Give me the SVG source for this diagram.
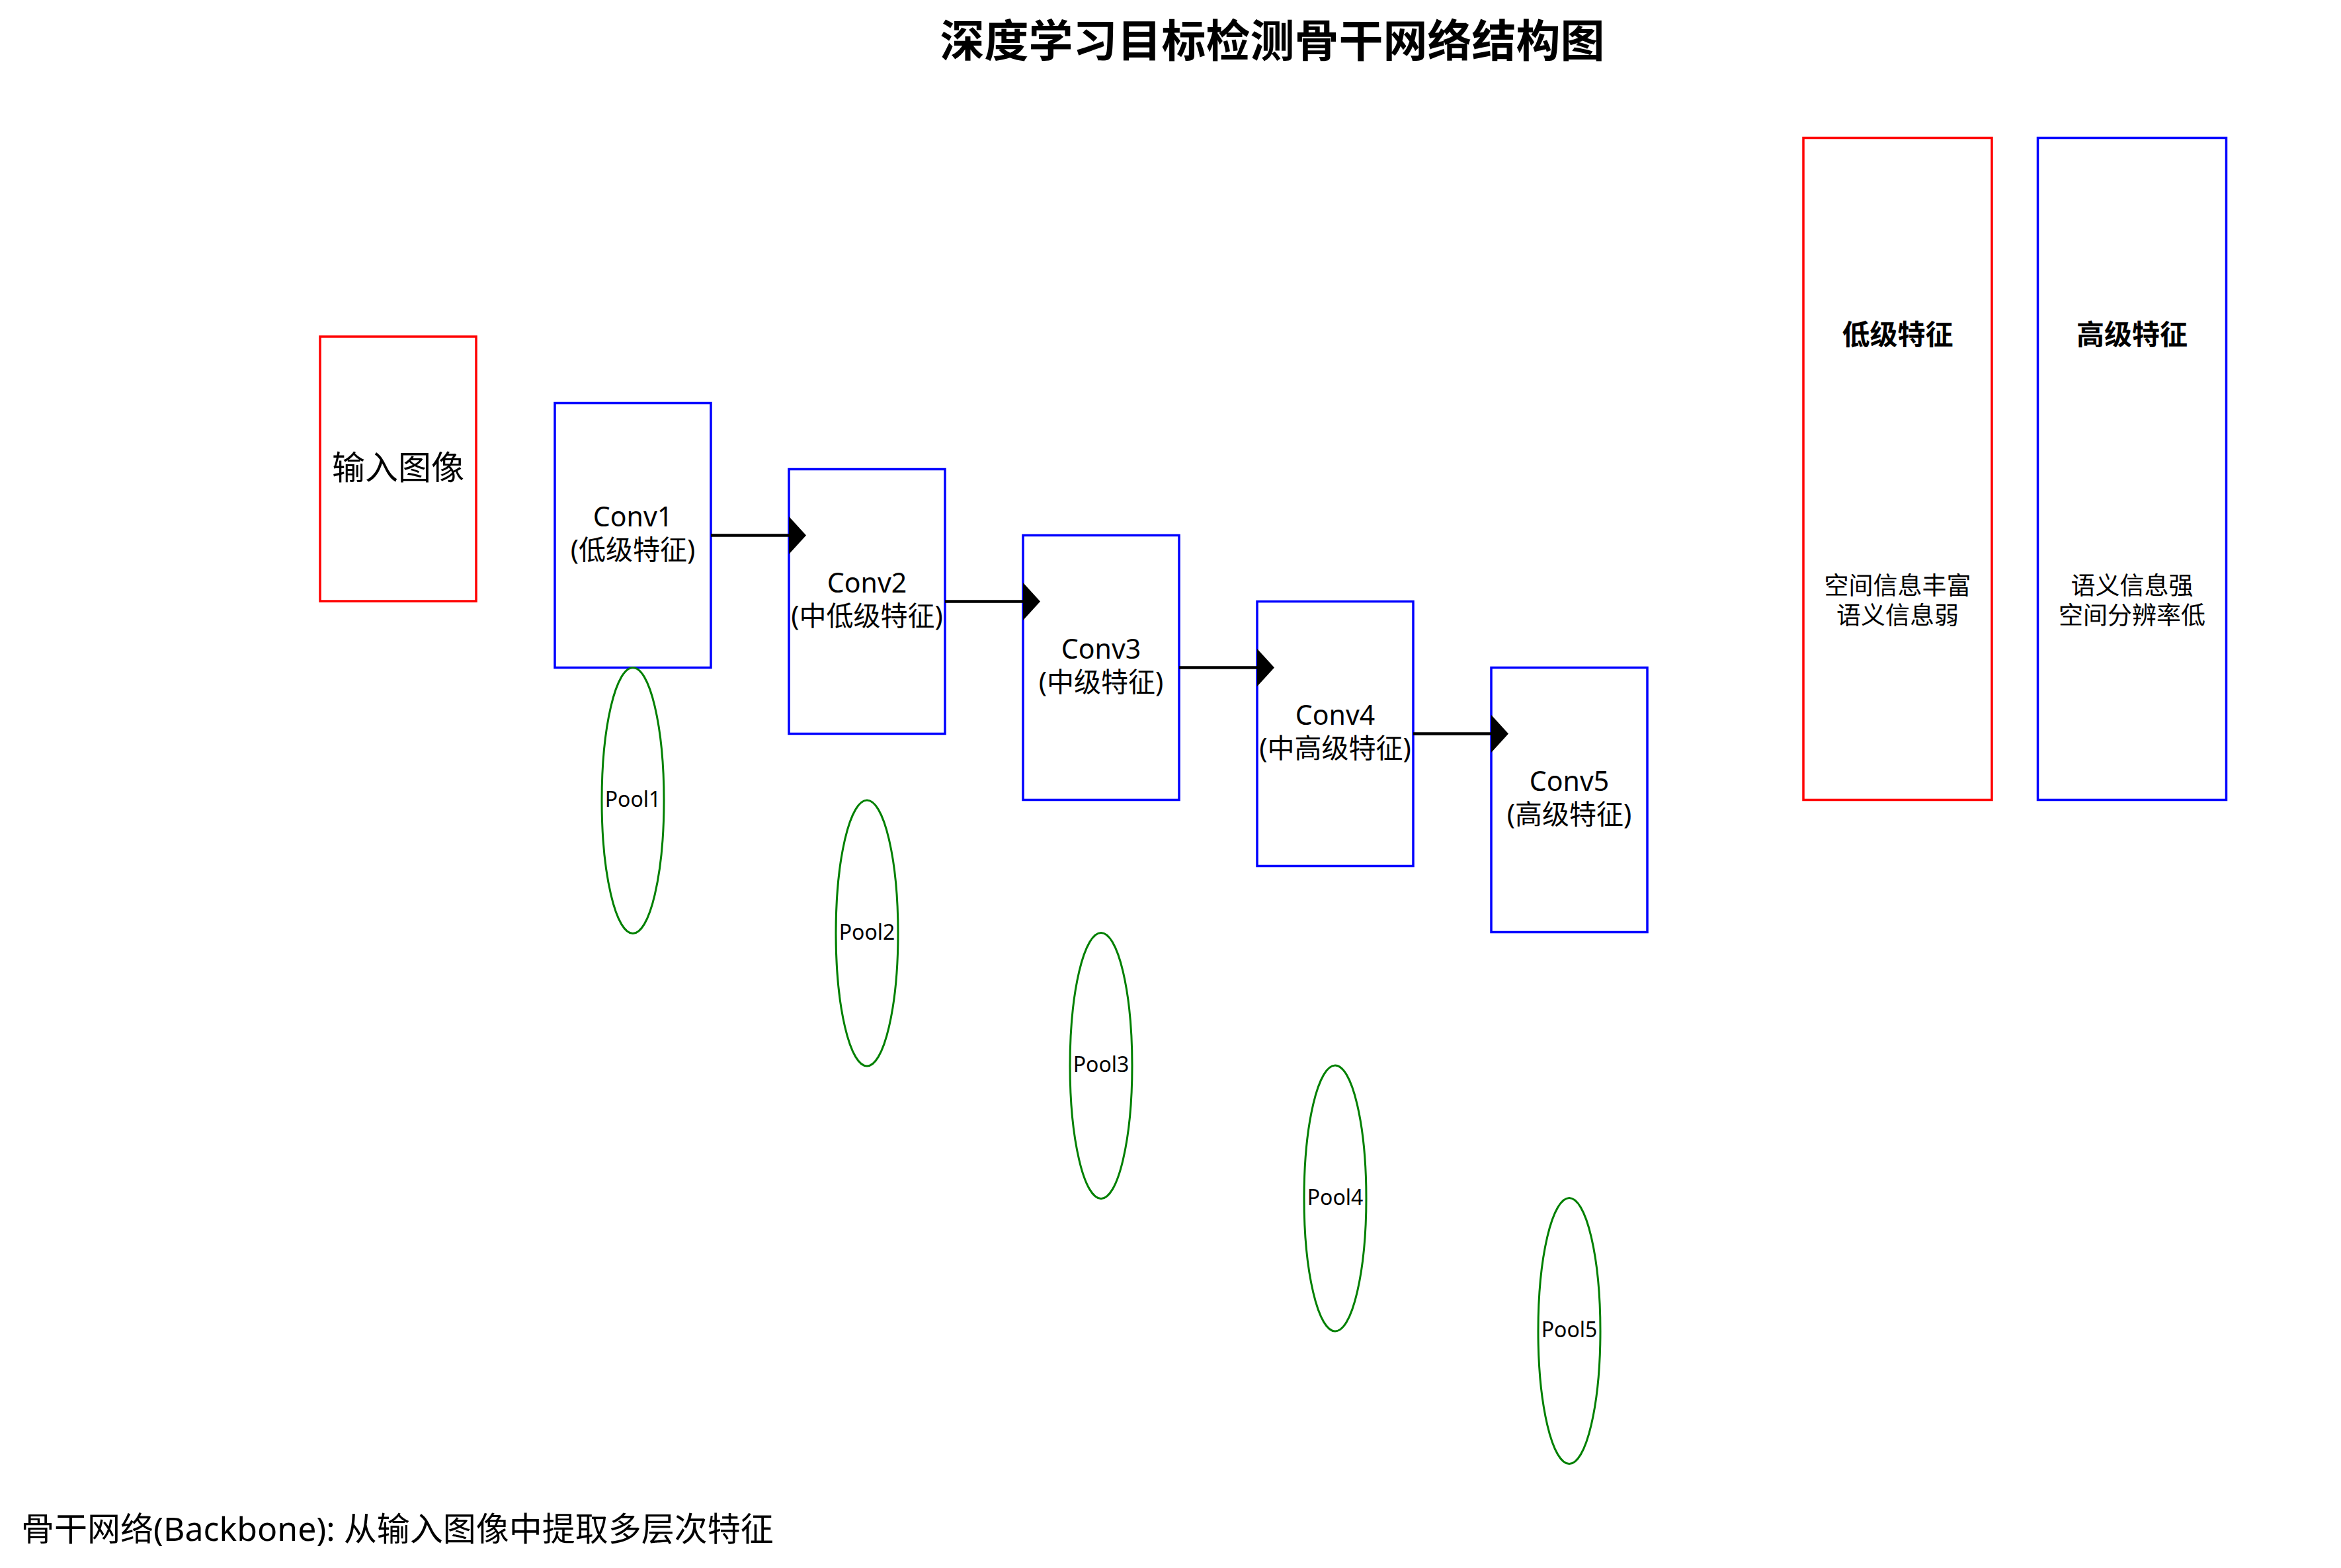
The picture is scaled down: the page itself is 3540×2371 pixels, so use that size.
<svg xmlns="http://www.w3.org/2000/svg" width="3540" height="2371" viewBox="0 0 3540 2371">
<style>
text{font-family:"Noto Sans","Noto Sans CJK SC",sans-serif;fill:#000;text-anchor:middle}
.red{fill:none;stroke:#ff0000;stroke-width:3.5}
.blue{fill:none;stroke:#0000ff;stroke-width:3.5}
.pool{fill:none;stroke:#008000;stroke-width:3}
.conv{font-size:41px}
.pl{font-size:32px}
.conn line{stroke:#000;stroke-width:4.5}
</style>
<defs>
<marker id="ah" markerUnits="userSpaceOnUse" markerWidth="27" markerHeight="58" refX="0" refY="28.5" orient="auto" overflow="visible">
<path d="M0,0 L26,28.5 L0,57 Z" fill="#000"/>
</marker>
</defs>
<rect width="3540" height="2371" fill="#fff"/>
<text id="title" x="1924" y="86" style="font-size:67px;font-weight:bold">深度学习目标检测骨干网络结构图</text>

<g id="input">
<rect class="red" x="484" y="509" width="236" height="400"/>
<text x="602" y="725" style="font-size:50px">输入图像</text>
</g>

<g id="conv1">
<rect class="blue" x="839" y="609.5" width="236" height="400"/>
<text class="conv" x="957" y="796">Conv1</text>
<text class="conv" x="957" y="846">(低级特征)</text>
</g>
<g id="conv2">
<rect class="blue" x="1193" y="709.5" width="236" height="400"/>
<text class="conv" x="1311" y="896">Conv2</text>
<text class="conv" x="1311" y="946">(中低级特征)</text>
</g>
<g id="conv3">
<rect class="blue" x="1547" y="809.5" width="236" height="400"/>
<text class="conv" x="1665" y="996">Conv3</text>
<text class="conv" x="1665" y="1046">(中级特征)</text>
</g>
<g id="conv4">
<rect class="blue" x="1901" y="909.5" width="236" height="400"/>
<text class="conv" x="2019" y="1096">Conv4</text>
<text class="conv" x="2019" y="1146">(中高级特征)</text>
</g>
<g id="conv5">
<rect class="blue" x="2255" y="1009.5" width="236" height="400"/>
<text class="conv" x="2373" y="1196">Conv5</text>
<text class="conv" x="2373" y="1246">(高级特征)</text>
</g>

<g id="pool1"><ellipse class="pool" cx="957" cy="1210.5" rx="47" ry="201"/><text class="pl" x="957" y="1220">Pool1</text></g>
<g id="pool2"><ellipse class="pool" cx="1311" cy="1411" rx="47" ry="201"/><text class="pl" x="1311" y="1420.5">Pool2</text></g>
<g id="pool3"><ellipse class="pool" cx="1665" cy="1611.5" rx="47" ry="201"/><text class="pl" x="1665" y="1621">Pool3</text></g>
<g id="pool4"><ellipse class="pool" cx="2019" cy="1812" rx="47" ry="201"/><text class="pl" x="2019" y="1821.5">Pool4</text></g>
<g id="pool5"><ellipse class="pool" cx="2373" cy="2012.5" rx="47" ry="201"/><text class="pl" x="2373" y="2022">Pool5</text></g>

<g id="low-features">
<rect class="red" x="2727" y="208.5" width="285" height="1001"/>
<text x="2869.5" y="521" style="font-size:42px;font-weight:bold">低级特征</text>
<text x="2869.5" y="899" style="font-size:37px">空间信息丰富</text>
<text x="2869.5" y="944" style="font-size:37px">语义信息弱</text>
</g>
<g id="high-features">
<rect class="blue" x="3081.5" y="208.5" width="285" height="1001"/>
<text x="3224" y="521" style="font-size:42px;font-weight:bold">高级特征</text>
<text x="3224" y="899" style="font-size:37px">语义信息强</text>
<text x="3224" y="944" style="font-size:37px">空间分辨率低</text>
</g>

<g id="connectors" class="conn">
<line x1="1075" y1="809.5" x2="1193" y2="809.5" marker-end="url(#ah)"/>
<line x1="1429" y1="909.5" x2="1547" y2="909.5" marker-end="url(#ah)"/>
<line x1="1783" y1="1009.5" x2="1901" y2="1009.5" marker-end="url(#ah)"/>
<line x1="2137" y1="1109.5" x2="2255" y2="1109.5" marker-end="url(#ah)"/>
</g>

<text id="caption" x="32" y="2330" style="font-size:50px;text-anchor:start">骨干网络(Backbone): 从输入图像中提取多层次特征</text>
</svg>
